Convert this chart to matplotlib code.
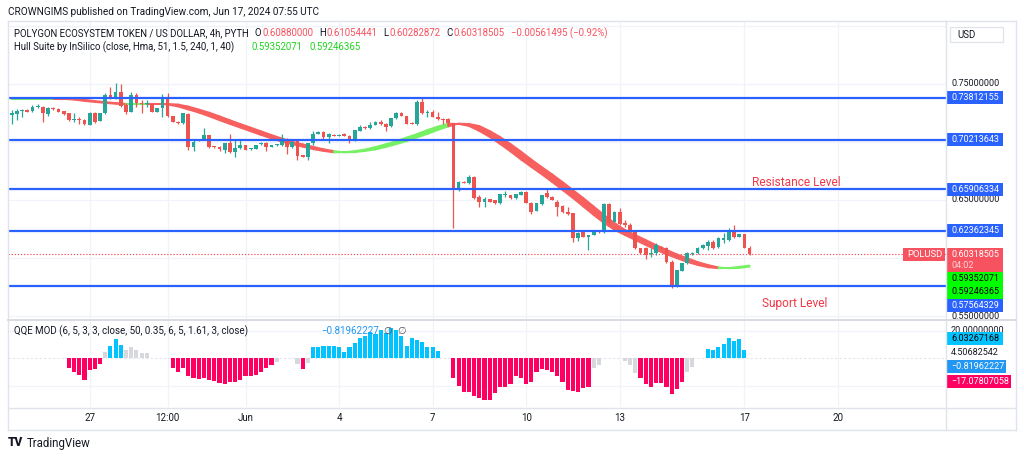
import numpy as np
import matplotlib
matplotlib.use("Agg")
import matplotlib.pyplot as plt
from matplotlib.patches import Rectangle, Polygon
from matplotlib.lines import Line2D
from matplotlib.transforms import IdentityTransform, Bbox

plt.rcParams['font.family'] = ['Roboto', 'DejaVu Sans']
nan = float('nan')

# ---------------- data (4h candles, May 24 12:00 -> Jun 17 04:00) ----------------
opens = [
    0.7233, 0.7239, 0.7267, 0.7276, 0.7267, 0.7305, 0.7305, 0.7241, 0.7296, 0.7285,
    0.7267, 0.7247, 0.7193, 0.7198, 0.7190, 0.7147, 0.7253, 0.7184, 0.7247, 0.7405,
    0.7377, 0.7428, 0.7319, 0.7262, 0.7405, 0.7333, 0.7328, 0.7325, 0.7262, 0.7290,
    0.7368, 0.7224, 0.7175, 0.7161, 0.7241, 0.6960, 0.7012, 0.7023, 0.7060, 0.6966,
    0.6954, 0.6931, 0.6988, 0.6917, 0.6945, 0.6974, 0.6937, 0.6940, 0.6980, 0.6994,
    0.6957, 0.6971, 0.6974, 0.7023, 0.6954, 0.7011, 0.6888, 0.6868, 0.6988, 0.7069,
    0.7089, 0.7046, 0.7063, 0.7052, 0.7069, 0.7052, 0.7017, 0.7098, 0.7132, 0.7118,
    0.7147, 0.7175, 0.7155, 0.7138, 0.7204, 0.7253, 0.7224, 0.7167, 0.7155, 0.7348,
    0.7247, 0.7262, 0.7218, 0.7195, 0.7195, 0.7161, 0.6601, 0.6658, 0.6649, 0.6701,
    0.6529, 0.6486, 0.6506, 0.6500, 0.6471, 0.6543, 0.6543, 0.6514, 0.6543, 0.6572,
    0.6477, 0.6408, 0.6466, 0.6558, 0.6529, 0.6486, 0.6448, 0.6399, 0.6385, 0.6170,
    0.6227, 0.6184, 0.6198, 0.6236, 0.6221, 0.6466, 0.6313, 0.6399, 0.6299, 0.6285,
    0.6227, 0.6083, 0.6083, 0.6034, 0.6040, 0.6098, 0.6083, 0.5968, 0.5756, 0.5891,
    0.5954, 0.6034, 0.6040, 0.6083, 0.6103, 0.6141, 0.6098, 0.6155, 0.6155, 0.6236,
    0.6184, 0.6207, 0.60880000]
highs = [
    0.7276, 0.7282, 0.7282, 0.7282, 0.7319, 0.7325, 0.7310, 0.7305, 0.7302, 0.7290,
    0.7270, 0.7250, 0.7253, 0.7218, 0.7195, 0.7256, 0.7262, 0.7250, 0.7420, 0.7477,
    0.7506, 0.7500, 0.7333, 0.7434, 0.7420, 0.7362, 0.7362, 0.7330, 0.7293, 0.7414,
    0.7425, 0.7228, 0.7178, 0.7250, 0.7247, 0.7017, 0.7026, 0.7118, 0.7063, 0.6968,
    0.6966, 0.6994, 0.7069, 0.7017, 0.7017, 0.6977, 0.6948, 0.6977, 0.6997, 0.7003,
    0.6974, 0.6983, 0.7069, 0.7032, 0.7006, 0.7017, 0.6891, 0.6994, 0.7095, 0.7095,
    0.7098, 0.7080, 0.7069, 0.7069, 0.7075, 0.7060, 0.7106, 0.7147, 0.7138, 0.7175,
    0.7181, 0.7190, 0.7161, 0.7210, 0.7256, 0.7259, 0.7227, 0.7170, 0.7362, 0.7391,
    0.7276, 0.7276, 0.7262, 0.7204, 0.7204, 0.7167, 0.6667, 0.6661, 0.6716, 0.6704,
    0.6543, 0.6529, 0.6509, 0.6503, 0.6552, 0.6578, 0.6546, 0.6552, 0.6575, 0.6575,
    0.6486, 0.6474, 0.6546, 0.6601, 0.6532, 0.6500, 0.6457, 0.6443, 0.6391, 0.6227,
    0.6230, 0.6198, 0.6238, 0.6238, 0.6477, 0.6477, 0.6402, 0.6428, 0.6328, 0.6305,
    0.6230, 0.6086, 0.6098, 0.6083, 0.6126, 0.6104, 0.6098, 0.5983, 0.5899, 0.5957,
    0.6055, 0.6049, 0.6095, 0.6118, 0.6155, 0.6155, 0.6184, 0.6213, 0.6256, 0.6285,
    0.6210, 0.6210, 0.61054441]
lows = [
    0.7155, 0.7190, 0.7218, 0.7258, 0.7262, 0.7290, 0.7175, 0.7224, 0.7280, 0.7258,
    0.7236, 0.7184, 0.7175, 0.7152, 0.7150, 0.7144, 0.7167, 0.7181, 0.7241, 0.7371,
    0.7371, 0.7305, 0.7241, 0.7256, 0.7305, 0.7247, 0.7305, 0.7258, 0.7256, 0.7213,
    0.7213, 0.7170, 0.7158, 0.7158, 0.6931, 0.6925, 0.7006, 0.7017, 0.6951, 0.6951,
    0.6925, 0.6908, 0.6908, 0.6868, 0.6937, 0.6928, 0.6934, 0.6937, 0.6977, 0.6925,
    0.6954, 0.6968, 0.6966, 0.6897, 0.6948, 0.6845, 0.6868, 0.6845, 0.6974, 0.7066,
    0.7017, 0.6994, 0.7049, 0.7049, 0.7049, 0.6994, 0.7012, 0.7092, 0.7115, 0.7109,
    0.7144, 0.7147, 0.7098, 0.7132, 0.7198, 0.7221, 0.7152, 0.7152, 0.7147, 0.7241,
    0.7218, 0.7213, 0.7190, 0.7155, 0.7147, 0.6256, 0.6580, 0.6646, 0.6638, 0.6511,
    0.6443, 0.6443, 0.6483, 0.6468, 0.6468, 0.6529, 0.6511, 0.6511, 0.6540, 0.6474,
    0.6379, 0.6402, 0.6460, 0.6514, 0.6497, 0.6362, 0.6385, 0.6371, 0.6141, 0.6149,
    0.6181, 0.6069, 0.6195, 0.6218, 0.6213, 0.6285, 0.6310, 0.6285, 0.6270, 0.6227,
    0.6080, 0.6037, 0.5989, 0.6006, 0.6026, 0.6080, 0.5954, 0.5745, 0.5750, 0.5888,
    0.5948, 0.6029, 0.6037, 0.6078, 0.6069, 0.6080, 0.6083, 0.6126, 0.6149, 0.6170,
    0.6181, 0.6086, 0.60282872]
closes = [
    0.7247, 0.7267, 0.7276, 0.7262, 0.7305, 0.7313, 0.7247, 0.7290, 0.7285, 0.7262,
    0.7241, 0.7190, 0.7198, 0.7187, 0.7152, 0.7253, 0.7175, 0.7247, 0.7405, 0.7377,
    0.7428, 0.7313, 0.7262, 0.7405, 0.7333, 0.7325, 0.7333, 0.7262, 0.7290, 0.7368,
    0.7224, 0.7175, 0.7161, 0.7247, 0.6954, 0.7003, 0.7023, 0.7060, 0.6954, 0.6954,
    0.6940, 0.6988, 0.6917, 0.6951, 0.6974, 0.6931, 0.6945, 0.6974, 0.6994, 0.6954,
    0.6971, 0.6980, 0.7023, 0.6954, 0.7003, 0.6879, 0.6874, 0.6988, 0.7069, 0.7089,
    0.7040, 0.7069, 0.7052, 0.7063, 0.7052, 0.7023, 0.7103, 0.7132, 0.7118, 0.7147,
    0.7175, 0.7155, 0.7132, 0.7204, 0.7253, 0.7224, 0.7155, 0.7155, 0.7348, 0.7247,
    0.7262, 0.7218, 0.7195, 0.7190, 0.7161, 0.6606, 0.6658, 0.6649, 0.6701, 0.6514,
    0.6486, 0.6506, 0.6486, 0.6471, 0.6549, 0.6549, 0.6514, 0.6549, 0.6572, 0.6477,
    0.6399, 0.6471, 0.6543, 0.6523, 0.6500, 0.6443, 0.6399, 0.6379, 0.6170, 0.6218,
    0.6184, 0.6193, 0.6236, 0.6221, 0.6466, 0.6299, 0.6399, 0.6293, 0.6285, 0.6236,
    0.6083, 0.6040, 0.6026, 0.6046, 0.6112, 0.6083, 0.5968, 0.5753, 0.5897, 0.5954,
    0.6046, 0.6046, 0.6089, 0.6112, 0.6141, 0.6089, 0.6170, 0.6170, 0.6236, 0.6184,
    0.6207, 0.6089, 0.60318505]

# Hull Suite value, every 2nd candle
hull_every2 = [
    0.73700, 0.73712, 0.73722, 0.73730, 0.73735, 0.73705, 0.73650, 0.73534, 0.73448, 0.73362,
    0.73293, 0.73260, 0.73272, 0.73290, 0.73284, 0.73233, 0.73060, 0.72802, 0.72534, 0.72216,
    0.71879, 0.71552, 0.71241, 0.70922, 0.70603, 0.70302, 0.70026, 0.69802, 0.69595, 0.69379,
    0.69224, 0.69103, 0.69121, 0.69224, 0.69353, 0.69569, 0.69810, 0.70069, 0.70388, 0.70690,
    0.71034, 0.71336, 0.71586, 0.71560, 0.71379, 0.70948, 0.70431, 0.69828, 0.69181, 0.68491,
    0.67845, 0.67216, 0.66552, 0.65862, 0.65172, 0.64440, 0.63707, 0.63017, 0.62431, 0.61983,
    0.61552, 0.61121, 0.60707, 0.60319, 0.59983, 0.59655, 0.59397, 0.59198, 0.59112, 0.59138,
    0.59246, 0.59352]

# QQE MOD histogram, one value per candle
qqe_hist = [
    nan, nan, nan, nan, nan, nan, nan, nan, nan, nan, nan,
    -7.3, -9.7, -12.1, -15.8, -8.5, -8.0, -4.4,
    4.8, 9.2, 13.8, 9.7, 6.1, 7.8, 6.1, 4.1, 3.6,
    nan, nan, nan, nan,
    -6.8, -10.2, -7.3, -13.3, -14.5, -15.0, -14.5, -15.8, -16.5, -17.7,
    -18.7, -17.0, -17.5, -15.8, -13.3, -12.6, -12.1, -9.7, -7.3, -5.3,
    -2.9,
    nan, nan, nan,
    -4.1, -8.0, -3.6,
    7.8, 7.8, 8.7, 9.0, 9.2, 8.0, 4.8, 8.0, 11.4, 14.5, 16.2, 19.4, 17.5,
    20.6, 18.2, 21.8, 20.6, 16.5, 9.2, 14.5, 13.3, 11.6, 8.0, 7.8, 5.3,
    nan, nan,
    -14.1, -19.9, -24.7, -24.7, -27.4, -29.1, -30.3, -30.3,
    -25.5, -21.3, -20.6, -18.7, -13.3, -14.5, -18.7, -17.0, -10.4, -8.0,
    -8.5, -10.2, -13.3, -17.0, -23.0, -23.8, -24.7, -21.8, -20.6,
    -7.3, -5.3,
    nan, nan, nan, nan,
    -2.4, -5.3, -10.9,
    -14.5, -18.9, -20.6, -18.2, -18.2, -20.6, -25.9, -22.3, -17.0,
    -10.4, -6.5,
    nan, nan,
    6.5, 6.1, 8.5, 10.2, 14.5, 12.8, 13.8, 6.03,
    nan]
# p = strong bearish, b = strong bullish, g = neutral, . = none
qqe_state = ("..........." + "ppppppp" + "g" + "bbb" + "ggggg" + "...." +
             "pppppppppppppppppppp" + "g" + "..." + "gpg" +
             "bbbbbbbbbbbbbbbbbbbbbbbbb" + ".." +
             "ppppppppppppppppppppppppppp" + "gg" + "...." + "ggg" +
             "ppppppppp" + "gg" + ".." + "bbbbbbbb" + ".")

levels = [0.73812155, 0.70213643, 0.65906334, 0.62362345, 0.57564329]
change_abs = -0.00561495
change_pct = -0.92
hull_last = [0.59352071, 0.59246365]
qqe_fast, qqe_line, qqe_slow, qqe_low = 6.03267168, 4.50682542, -0.81962227, -17.07807058
countdown = "04:02"
price_grid = [0.55, 0.60, 0.65, 0.70, 0.75, 0.80]
price_axis_marks = [0.75, 0.65, 0.55]
tick_pos = [15, 30, 45, 63, 81, 99, 117, 141, 159]
tick_labels = ["27", "12:00", "Jun", "4", "7", "10", "13", "17", "20"]

# ---------------- figure ----------------
W, H = 1024, 458
fig = plt.figure(figsize=(W / 100, H / 100), dpi=100)
fig.patch.set_facecolor('white')
ID = IdentityTransform()
DARK = '#131722'
BORDER = '#e0e3eb'
GRID = '#f0f3fa'
RED = '#ef5350'
GREEN = '#26a69a'
BLUE = '#2962ff'
renderer = fig.canvas.get_renderer()


def rect_px(x0, y0, x1, y1):
    return [x0 / W, 1 - y1 / H, (x1 - x0) / W, (y1 - y0) / H]


def fmt(v, n=8):
    return f"{v:.{n}f}".replace('-', '\u2212')


def T(px, py, s, **kw):
    kw.setdefault('va', 'center')
    kw.setdefault('color', DARK)
    return fig.text(px, H - py, s, transform=ID, **kw)


def chain(px, py, parts, fs=6.9, z=30):
    for s, color, gap in parts:
        t = T(px, py, s, color=color, fontsize=fs, zorder=z)
        px = t.get_window_extent(renderer).x1 + gap


def R(x0, y0, x1, y1, fc, ec='none', lw=0, z=5):
    fig.add_artist(Rectangle((x0, H - y1), x1 - x0, y1 - y0, transform=ID,
                             facecolor=fc, edgecolor=ec, linewidth=lw, zorder=z))


def L(xs, ys, **kw):
    fig.add_artist(Line2D(xs, [H - y for y in ys], transform=ID, **kw))


ax = fig.add_axes(rect_px(8, 21, 946, 319))
ax2 = fig.add_axes(rect_px(8, 320, 946, 407))
for a in (ax, ax2):
    a.set_facecolor('white')
    for s in a.spines.values():
        s.set_visible(False)
    a.set_xlim(-0.71, 179.8)
    a.set_yticks([])
ax.set_ylim(0.547414, 0.804310)
ax2.set_ylim(-35.49, 27.78)
ax.set_xticks([])


def py_of(axis, v):
    return H - axis.transData.transform((0, v))[1]


# grid
for p in price_grid:
    ax.axhline(p, color=GRID, lw=0.9, zorder=0)
for t in tick_pos:
    ax.axvline(t, color=GRID, lw=0.9, zorder=0)
    ax2.axvline(t, color=GRID, lw=0.9, zorder=0)
for g in (20, -20):
    ax2.axhline(g, color=GRID, lw=0.9, zorder=0)
ax2.axhline(0, color='#e3e5ea', lw=0.8, ls=(0, (2, 2)), zorder=1)

# hull band
hx = np.arange(0, len(opens), 2)
hv = np.array(hull_every2)
for j in range(1, len(hv)):
    prev2 = hv[j - 2] if j >= 2 else hv[j - 1]
    poly = [(hx[j - 1], hv[j - 1]), (hx[j], hv[j]), (hx[j], hv[j - 1]), (hx[j - 1], prev2)]
    colr = '#78f066' if hv[j] > hv[j - 1] else '#f6605e'
    ax.add_patch(Polygon(poly, closed=True, facecolor=colr, edgecolor=colr, lw=1.3,
                         joinstyle='round', zorder=3))

# candles
x = np.arange(len(opens))
o, h, l, c = (np.array(v) for v in (opens, highs, lows, closes))
col = np.where(c >= o, GREEN, RED)
ax.vlines(x, l, h, colors=col, lw=0.9, zorder=4)
bh = np.maximum(np.abs(c - o), 0.0011)
ax.bar(x, bh, bottom=(o + c) / 2 - bh / 2, width=0.72, color=col, linewidth=0, zorder=5)

# levels and last price line
for lv in levels:
    ax.axhline(lv, color=BLUE, lw=1.6, zorder=6)
ax.axhline(closes[-1], color='#f7525f', lw=0.8, ls=(0, (1.2, 1.6)), zorder=2)

ax.text(142.4, 0.6647, "Resistance Level", color='#f23645', fontsize=8.6, va='center', zorder=7)
ax.text(144.3, 0.5612, "Suport Level", color='#f23645', fontsize=8.6, va='center', zorder=7)

# QQE histogram
qv = np.array(qqe_hist)
st = np.array(list(qqe_state))
cmap = {'p': '#ff0062', 'b': '#00c3ff', 'g': '#d6d8de', '.': 'white'}
m = ~np.isnan(qv)
ax2.bar(x[m], qv[m], width=0.8, color=[cmap[s] for s in st[m]], linewidth=0, zorder=3)

ax2.set_xticks(tick_pos)
ax2.set_xticklabels(tick_labels)
ax2.tick_params(axis='x', length=0, pad=4.5, labelsize=7, labelcolor=DARK)

# ---------------- frame ----------------
bk = dict(color=BORDER, lw=1, zorder=20)
L([8, 1016], [21, 21], **bk)
L([8, 1016], [430, 430], **bk)
L([8, 8], [21, 430], **bk)
L([1016, 1016], [21, 430], **bk)
L([946, 946], [21, 430], **bk)
L([8, 1016], [319.5, 319.5], color='#d6d9e0', lw=1.3, zorder=20)
L([8, 1016], [407.5, 407.5], **bk)

# ---------------- header & legends ----------------
T(8, 12, "CROWNGIMS published on TradingView.com, Jun 17, 2024 07:55 UTC", fontsize=7.2)
VRED = '#f7525f'
chain(14, 33, [("POLYGON ECOSYSTEM TOKEN / US DOLLAR, 4h, PYTH", DARK, 6),
               ("O", DARK, 0.8), (fmt(opens[-1]), VRED, 6),
               ("H", DARK, 0.8), (fmt(highs[-1]), VRED, 6),
               ("L", DARK, 0.8), (fmt(lows[-1]), VRED, 6),
               ("C", DARK, 0.8), (fmt(closes[-1]), VRED, 6),
               (f"{fmt(change_abs)} ({fmt(change_pct, 2)}%)", VRED, 0)])
T(14, 47, "Hull Suite by InSilico (close, Hma, 51, 1.5, 240, 1, 40)", fontsize=6.9, zorder=30)
chain(251, 47, [(fmt(hull_last[0]), '#1fd41f', 7),
                (fmt(hull_last[1]), '#1fd41f', 0)])
T(14, 331, "QQE MOD (6, 5, 3, 3, close, 50, 0.35, 6, 5, 1.61, 3, close)", fontsize=7, zorder=30)
chain(321, 331, [(fmt(qqe_slow), '#2196f3', 4),
                 ("\u2205", '#50535e', 6),
                 ("\u2205", '#50535e', 0)], fs=7)

# ---------------- price axis ----------------
clipbox = Bbox([[946, H - 319], [1016, H - 21]])
for pm in price_axis_marks:
    t = T(951, py_of(ax, pm), fmt(pm), fontsize=6.5, zorder=8)
    t.set_clip_on(True)
    t.set_clip_box(clipbox)

for lv in levels[:-1]:
    yc = py_of(ax, lv)
    R(946.5, yc - 6.5, 1003, yc + 6.5, BLUE, z=9)
    T(951, yc, fmt(lv), fontsize=6.5, color='white', zorder=10)

yp = py_of(ax, closes[-1])
R(946.5, yp - 6, 1003, yp + 18, '#f7525f', z=9)
T(951, yp, fmt(closes[-1]), fontsize=6.5, color='white', zorder=10)
T(951, yp + 11, countdown, fontsize=6.5, color='#ffd5d8', zorder=10)
R(946.5, yp + 18, 1003, yp + 44.5, '#00ff00', z=9)
T(951, yp + 24.5, fmt(hull_last[0]), fontsize=6.5, color='black', zorder=10)
T(951, yp + 37, fmt(hull_last[1]), fontsize=6.5, color='black', zorder=10)
R(946.5, yp + 44.5, 1003, yp + 57.5, BLUE, z=9)
T(951, yp + 51, fmt(levels[-1]), fontsize=6.5, color='white', zorder=10)

# POLUSD tag
R(903, yp - 6.5, 944.5, yp + 6.5, '#f7525f', z=9)
T(907, yp, "POLUSD", fontsize=6.8, color='white', zorder=10)

# USD box
R(950, 27, 1003, 42, 'white', ec=BORDER, lw=0.9, z=9)
T(957, 34.5, "USD", fontsize=7, zorder=10)

# ---------------- indicator axis ----------------
T(951, py_of(ax2, 20), fmt(20.0), fontsize=6.5, zorder=8)
yl = py_of(ax2, qqe_line)
R(946.5, yl - 20.5, 1003, yl - 7.5, '#00c3ff', z=9)
T(951, yl - 14, fmt(qqe_fast), fontsize=6.5, color='black', zorder=10)
T(951, yl, fmt(qqe_line), fontsize=6.5, zorder=10)
R(946.5, yl + 7.5, 1006, yl + 20.5, '#2196f3', z=9)
T(951, yl + 14, fmt(qqe_slow), fontsize=6.5, color='white', zorder=10)
ylo = py_of(ax2, qqe_low)
R(946.5, ylo - 6.5, 1011, ylo + 6.5, '#ff0062', z=9)
T(951, ylo, fmt(qqe_low), fontsize=6.5, color='white', zorder=10)

# ---------------- footer ----------------
T(8, 443, "TV", fontsize=8.5, weight='black')
T(27, 443, "TradingView", fontsize=8.3)

fig.savefig("out.png", dpi=100, facecolor='white')
